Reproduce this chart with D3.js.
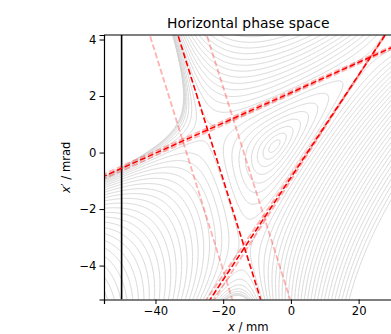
<!DOCTYPE html>
<html>
<head>
<meta charset="utf-8">
<script src="https://cdn.jsdelivr.net/npm/d3@7"></script>
<style>
  body { margin: 0; background: #fff; }
  svg { display: block; font-family: "DejaVu Sans", sans-serif; }
</style>
</head>
<body>
<svg id="chart" width="391" height="334"></svg>
<script>
// unstable fixed points of the resonance (x / mm, x' / mrad)
const fixedX = [-24.4, 23.3, -13.6];
const fixedXp = [0.69, 3.34, -3.34];
const septumX = -50;
const xTicks = [-40, -20, 0, 20];
const yTicks = [-4, -2, 0, 2, 4];

// dashed separatrix lines as [x0, x'0, x1, x'1]
const redLines = [
  [-34.0, 4.4, -8.4, -5.4],
  [-56.0, -0.88, 31.0, 3.78],
  [-24.4, -5.3, 28.6, 4.3]
];
const paleLines = [
  [-42.3, 4.4, -16.8, -5.4],
  [-25.5, 4.4, 0.3, -5.4],
  [-56.0, -0.80, 31.0, 3.83],
  [-56.0, -0.97, 31.0, 3.73],
  [-23.2, -5.3, 28.4, 4.3],
  [-25.5, -5.3, 28.8, 4.3]
];

const svg = d3.select("#chart");
const pLeft = 104, pRight = 392.5, pTop = 35, pBottom = 299.5;

const x = d3.scaleLinear().domain([-55.2, 30]).range([pLeft, pRight]);
const y = d3.scaleLinear().domain([-5.2, 4.16]).range([pBottom, pTop]);

svg.append("clipPath").attr("id", "plot")
  .append("rect")
  .attr("x", pLeft).attr("y", pTop)
  .attr("width", pRight - pLeft).attr("height", pBottom - pTop);

// Hamiltonian of a third order resonance = product of the three separatrix lines
const [ax, bx, cx] = fixedX;
const [ay, by, cy] = fixedXp;
const cross = (ux, uy, vx, vy) => ux * vy - uy * vx;
const det = cross(bx - ax, by - ay, cx - ax, cy - ay);
function ham(px, py) {
  const la = cross(bx - px, by - py, cx - px, cy - py) / det;
  const lb = cross(cx - px, cy - py, ax - px, ay - py) / det;
  const lc = cross(ax - px, ay - py, bx - px, by - py) / det;
  return la * lb * lc;
}

// grid
const nx = 380, ny = 220;
const gx0 = -58, gx1 = 33, gy0 = -5.5, gy1 = 4.5;
const dx = (gx1 - gx0) / (nx - 1), dy = (gy1 - gy0) / (ny - 1);
const values = new Float64Array(nx * ny);
for (let j = 0; j < ny; j++) {
  for (let i = 0; i < nx; i++) {
    values[j * nx + i] = ham(gx0 + i * dx, gy0 + j * dy);
  }
}

// one contour every 1.25 mm going right from the stable point
const centreX = d3.mean(fixedX), centreXp = d3.mean(fixedXp);
const levels = [];
for (let k = 1; k < 200; k++) {
  const v = ham(centreX + k * 1.25, centreXp);
  if (v < -1.05) break;
  levels.push(v);
}
levels.sort((a, b) => a - b);

const contours = d3.contours().size([nx, ny]).thresholds(levels)(values);
const path = d3.geoPath(d3.geoTransform({
  point(px, py) {
    this.stream.point(x(gx0 + (px - 0.5) * dx), y(gy0 + (py - 0.5) * dy));
  }
}));

const plot = svg.append("g").attr("clip-path", "url(#plot)");

plot.append("g")
  .selectAll("path")
  .data(contours)
  .join("path")
  .attr("d", path)
  .attr("fill", "none")
  .attr("stroke", "#d4d4d4")
  .attr("stroke-width", 0.9);

plot.append("line")
  .attr("x1", x(septumX)).attr("x2", x(septumX))
  .attr("y1", pTop).attr("y2", pBottom)
  .attr("stroke", "black")
  .attr("stroke-width", 1.6);

plot.append("g")
  .selectAll("line")
  .data(paleLines)
  .join("line")
  .attr("x1", d => x(d[0])).attr("y1", d => y(d[1]))
  .attr("x2", d => x(d[2])).attr("y2", d => y(d[3]))
  .attr("stroke", "red")
  .attr("stroke-opacity", 0.3)
  .attr("stroke-width", 1.8)
  .attr("stroke-dasharray", "5.9,2.6");

plot.append("g")
  .selectAll("line")
  .data(redLines)
  .join("line")
  .attr("x1", d => x(d[0])).attr("y1", d => y(d[1]))
  .attr("x2", d => x(d[2])).attr("y2", d => y(d[3]))
  .attr("stroke", "red")
  .attr("stroke-width", 1.6)
  .attr("stroke-dasharray", "5.9,2.6");

// axes
const fmt = d => d < 0 ? "\u2212" + Math.abs(d) : d;
const xaxis = svg.append("g")
  .attr("transform", "translate(0," + pBottom + ")")
  .call(d3.axisBottom(x).tickValues(xTicks).tickSizeOuter(0).tickSize(4.5).tickPadding(3).tickFormat(fmt));
const yaxis = svg.append("g")
  .attr("transform", "translate(" + pLeft + ",0)")
  .call(d3.axisLeft(y).tickValues(yTicks).tickSizeOuter(0).tickSize(4.5).tickPadding(3).tickFormat(fmt));
[xaxis, yaxis].forEach(a => {
  a.select(".domain").attr("stroke", "black").attr("stroke-width", 1.2);
  a.selectAll(".tick line").attr("stroke", "black").attr("stroke-width", 1);
  a.selectAll("text")
    .style("font-family", "DejaVu Sans")
    .style("font-size", "11.6px")
    .attr("fill", "black");
});

svg.append("line")
  .attr("x1", pLeft).attr("x2", pRight + 5)
  .attr("y1", pTop).attr("y2", pTop)
  .attr("stroke", "black").attr("stroke-width", 1.2);

// title and labels
svg.append("text")
  .attr("x", (pLeft + pRight) / 2).attr("y", 28)
  .attr("text-anchor", "middle")
  .style("font-size", "13.9px")
  .text("Horizontal phase space");

const xl = svg.append("text")
  .attr("x", (pLeft + pRight) / 2).attr("y", 331)
  .attr("text-anchor", "middle")
  .style("font-size", "11.6px");
xl.append("tspan").style("font-style", "italic").text("x");
xl.append("tspan").text(" / mm");

const yl = svg.append("text")
  .attr("transform", "translate(70," + (pTop + pBottom) / 2 + ") rotate(-90)")
  .attr("text-anchor", "middle")
  .style("font-size", "11.6px");
yl.append("tspan").style("font-style", "italic").text("x");
yl.append("tspan").text("\u2032 / mrad");
</script>
</body>
</html>
